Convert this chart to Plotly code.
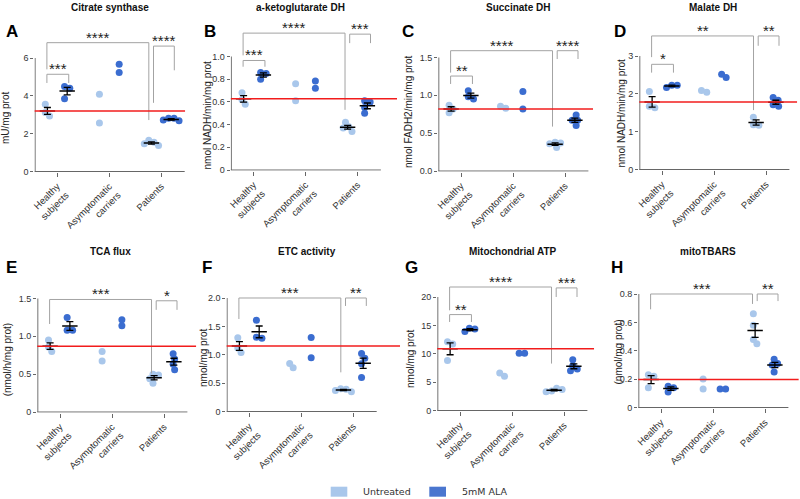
import numpy as np
import plotly.graph_objects as go

groups = ["Healthy<br>subjects", "Asymptomatic<br>carriers", "Patients"]

# values per group: [healthy, asymptomatic, patients]
cs_untreated = [[3.55, 3.12, 2.93], [4.08, 2.57], [1.65, 1.55, 1.47, 1.37]]
cs_ala = [[4.5, 4.4, 3.85], [5.67, 5.24], [2.68, 2.81, 2.72, 2.81]]
akg_untreated = [[0.68, 0.62, 0.58], [0.76, 0.61], [0.42, 0.34, 0.38, 0.37]]
akg_ala = [[0.86, 0.85, 0.80], [0.785, 0.72], [0.61, 0.60, 0.50, 0.55]]
sdh_untreated = [[0.87, 0.82, 0.77], [0.83, 0.855], [0.38, 0.31, 0.36, 0.37]]
sdh_ala = [[0.95, 1.06, 0.98], [1.05, 0.82], [0.74, 0.67, 0.67, 0.60]]
mdh_untreated = [[1.63, 2.06, 1.67], [2.04, 2.09], [1.17, 1.38, 1.18]]
mdh_ala = [[2.17, 2.23, 2.23], [2.43, 2.52], [1.67, 1.83, 1.90, 1.71]]
tca_untreated = [[0.95, 0.86, 0.80], [0.80, 0.675], [0.50, 0.38, 0.49, 0.44]]
tca_ala = [[1.08, 1.25, 1.08], [1.22, 1.14], [0.77, 0.70, 0.63, 0.56]]
etc_untreated = [[1.30, 1.04, 1.12], [0.77, 0.845], [0.35, 0.40, 0.37, 0.39]]
etc_ala = [[1.29, 1.61, 1.31], [1.305, 0.945], [0.60, 0.84, 0.94, 1.02]]
atp_untreated = [[12.1, 8.8, 11.7], [6.05, 6.6], [3.3, 3.9, 3.45, 3.7]]
atp_ala = [[13.9, 14.5, 14.35], [10.1, 10.1], [7.0, 8.95, 7.3, 7.9]]
tbars_untreated = [[0.23, 0.14, 0.22], [0.20, 0.13], [0.45, 0.66, 0.58, 0.48]]
tbars_ala = [[0.11, 0.15, 0.14], [0.13, 0.13], [0.34, 0.31, 0.25, 0.30]]

# significance brackets: (from, to, bar y, left leg end, right leg end, label)
cs_sig = [("HU", "HA", 5.14, 4.68, 4.68, "***"), ("HU", "PU", 6.81, 5.4, 2.72, "****"),
          ("PU", "PA", 6.63, 3.63, 5.35, "****")]
akg_sig = [("HU", "HA", 0.965, 0.91, 0.91, "***"), ("HU", "PU", 1.206, 1.01, 0.53, "****"),
           ("PU", "PA", 1.197, 1.118, 1.118, "***")]
sdh_sig = [("HU", "HA", 1.255, 1.15, 1.15, "**"), ("HU", "PU", 1.59, 1.30, 0.587, "****"),
           ("PU", "PA", 1.59, 1.48, 1.48, "****")]
mdh_sig = [("HU", "HA", 2.78, 2.56, 2.56, "*"), ("HU", "PU", 3.53, 2.97, 1.57, "**"),
           ("PU", "PA", 3.53, 3.27, 3.27, "**")]
tca_sig = [("HU", "PU", 1.487, 1.163, 0.51, "***"), ("PU", "PA", 1.47, 1.35, 1.35, "*")]
etc_sig = [("HU", "PU", 2.0, 1.63, 0.69, "***"), ("PU", "PA", 2.0, 1.86, 1.86, "**")]
atp_sig = [("HU", "HA", 16.9, 15.6, 15.6, "**"), ("HU", "PU", 21.76, 17.65, 8.27, "****"),
           ("PU", "PA", 21.6, 20.0, 20.0, "***")]
tbars_sig = [("HU", "PU", 0.80, 0.692, 0.73, "***"), ("PU", "PA", 0.80, 0.75, 0.75, "**")]

panels = [
    dict(letter="A", title="Citrate synthase", ylabel="mU/mg prot", u=cs_untreated, a=cs_ala, sig=cs_sig,
         ticks=[0, 2, 4, 6], ticktext=["0", "2", "4", "6"]),
    dict(letter="B", title="a-ketoglutarate DH", ylabel="nmol NADH/min/mg prot", u=akg_untreated, a=akg_ala,
         sig=akg_sig, ticks=[0, 0.2, 0.4, 0.6, 0.8, 1.0], ticktext=["0", "0.2", "0.4", "0.6", "0.8", "1.0"]),
    dict(letter="C", title="Succinate DH", ylabel="nmol FADH2/min/mg prot", u=sdh_untreated, a=sdh_ala,
         sig=sdh_sig, ticks=[0, 0.5, 1.0, 1.5], ticktext=["0.0", "0.5", "1.0", "1.5"]),
    dict(letter="D", title="Malate DH", ylabel="nmol NADH/min/mg prot", u=mdh_untreated, a=mdh_ala,
         sig=mdh_sig, ticks=[0, 1, 2, 3], ticktext=["0", "1", "2", "3"]),
    dict(letter="E", title="TCA flux", ylabel="(nmol/h/mg prot)", u=tca_untreated, a=tca_ala, sig=tca_sig,
         ticks=[0, 0.5, 1.0, 1.5], ticktext=["0", "0.5", "1.0", "1.5"]),
    dict(letter="F", title="ETC activity", ylabel="nmol/mg prot", u=etc_untreated, a=etc_ala, sig=etc_sig,
         ticks=[0, 0.5, 1.0, 1.5, 2.0], ticktext=["0", "0.5", "1.0", "1.5", "2.0"]),
    dict(letter="G", title="Mitochondrial ATP", ylabel="nmol/mg prot", u=atp_untreated, a=atp_ala, sig=atp_sig,
         ticks=[0, 5, 10, 15, 20], ticktext=["0", "5", "10", "15", "20"]),
    dict(letter="H", title="mitoTBARS", ylabel="(nmol/mg prot)", u=tbars_untreated, a=tbars_ala, sig=tbars_sig,
         ticks=[0, 0.2, 0.4, 0.6, 0.8], ticktext=["0", "0.2", "0.4", "0.6", "0.8"]),
]

# pixel layout of each panel (800x499 canvas)
pos = {
    "A": dict(hx=57.3, y0=171.5, xend=3.46, tx=110, lx=5, ly=118, kx=11.7),
    "B": dict(hx=253.5, y0=170, xend=3.76, tx=300, lx=206.5, ly=115, kx=210),
    "C": dict(hx=461, y0=171, xend=3.54, tx=518, lx=408, ly=112, kx=408),
    "D": dict(hx=662, y0=169.5, xend=3.6, tx=713, lx=620.5, ly=113, kx=620),
    "E": dict(hx=60, y0=412, xend=3.62, tx=110, lx=7.3, ly=360, kx=11.7),
    "F": dict(hx=249.3, y0=411.5, xend=3.9, tx=306.7, lx=203, ly=357, kx=206.7),
    "G": dict(hx=460, y0=410.5, xend=3.58, tx=513, lx=410, ly=358, kx=411.7),
    "H": dict(hx=661, y0=407.5, xend=3.65, tx=708, lx=617.5, ly=352, kx=616.7),
}

W, H = 800, 499
S = 52.0        # px per category
TICKPX = 113.5  # px from 0 to top tick
X0 = 0.56
LIGHT = "#a9c7eb"
DARK = "#3b6dd0"
FONT = "Liberation Sans"
OFF_U, OFF_A = -0.19, 0.19
left_end = {"HU": 1 - 0.2, "PU": 3 - 0.15}
right_end = {"HA": 1 + 0.22, "PU": 3 - 0.24, "PA": 3 + 0.25}


def swarm(vals, upp, d=5.5, step=0.25):
    vals = np.asarray(vals, float)
    offs = np.zeros(len(vals))
    placed = []
    cands = [0.0] + [s * j * step for j in range(1, 80) for s in (1, -1)]
    for i in np.argsort(-vals):
        y = vals[i] * upp
        for c in cands:
            if all((c - px) ** 2 + (y - py) ** 2 >= d * d for px, py in placed):
                break
        placed.append((c, y))
        offs[i] = c
    offs -= (offs.max() + offs.min()) / 2
    return offs / S


def paper_text(x, y, text, size, color, family=FONT, **kw):
    d = dict(x=x / W, y=1 - y / H, xref="paper", yref="paper", text=text, showarrow=False,
             xanchor="center", yanchor="middle", font=dict(family=family, size=size, color=color))
    d.update(kw)
    return d


fig = go.Figure()
shapes, annotations = [], []

for k, p in enumerate(panels):
    n = k + 1
    xa = "x" if n == 1 else f"x{n}"
    ya = "y" if n == 1 else f"y{n}"
    g = pos[p["letter"]]
    row = 0 if k < 4 else 1
    top = p["ticks"][-1]
    ymax = top * (1.24 if row == 0 else 1.14)
    ymin = -0.006 * top
    upp = TICKPX / top

    left_px = g["hx"] - (1 - X0) * S
    right_px = left_px + (g["xend"] - X0) * S
    bot_px = g["y0"] - ymin * upp
    top_px = g["y0"] - ymax * upp

    fig.layout[f"xaxis{'' if n == 1 else n}"] = dict(
        domain=[left_px / W, right_px / W], anchor=ya, range=[X0, g["xend"]],
        tickvals=[1, 2, 3], ticktext=groups, tickangle=-45, ticks="outside", ticklen=4,
        tickcolor="#666", showline=False, showgrid=False, zeroline=False,
        tickfont=dict(family=FONT, size=9.5, color="#333"), automargin=False)
    fig.layout[f"yaxis{'' if n == 1 else n}"] = dict(
        domain=[1 - bot_px / H, 1 - top_px / H], anchor=xa, range=[ymin, ymax],
        tickvals=p["ticks"], ticktext=p["ticktext"], ticks="outside", ticklen=3,
        tickcolor="#666", showline=False, showgrid=False, zeroline=False,
        tickfont=dict(family=FONT, size=9, color="#333"), automargin=False)

    # axis lines
    shapes.append(dict(type="line", xref=xa, yref=ya, x0=X0, x1=3.45, y0=0, y1=0,
                       line=dict(color="#666", width=1)))
    shapes.append(dict(type="line", xref=xa, yref=ya, x0=X0 + 0.013, x1=X0 + 0.013, y0=0, y1=top,
                       line=dict(color="#666", width=1)))

    # reference line: healthy untreated mean
    ref = float(np.mean(p["u"][0]))
    shapes.append(dict(type="line", xref=xa, yref=ya, x0=X0, x1=g["xend"], y0=ref, y1=ref,
                       line=dict(color="#f21c1c", width=1.5)))

    for gi in range(3):
        for vals, off, col in ((p["u"][gi], OFF_U, LIGHT), (p["a"][gi], OFF_A, DARK)):
            cx = gi + 1 + off
            xs = cx + swarm(vals, upp)
            fig.add_trace(go.Scatter(x=xs, y=vals, xaxis=xa, yaxis=ya, mode="markers",
                                     marker=dict(size=7, color=col, line=dict(width=0)),
                                     showlegend=False, hoverinfo="y"))
            if len(vals) >= 3:
                m = float(np.mean(vals))
                sem = float(np.std(vals, ddof=1) / np.sqrt(len(vals)))
                fig.add_trace(go.Scatter(
                    x=[cx], y=[m], xaxis=xa, yaxis=ya, mode="markers",
                    marker=dict(symbol="line-ew", size=11, color="black",
                                line=dict(width=1.5, color="black")),
                    error_y=dict(type="data", array=[sem], color="black", thickness=1.3, width=3.5),
                    showlegend=False, hoverinfo="skip"))

    # significance brackets
    for a, b, yb, l1, l2, lab in p["sig"]:
        x1, x2 = left_end[a], right_end[b]
        fig.add_trace(go.Scatter(x=[x1, x1, x2, x2], y=[l1, yb, yb, l2], xaxis=xa, yaxis=ya,
                                 mode="lines", line=dict(color="#a3a3a3", width=1),
                                 showlegend=False, hoverinfo="skip"))
        annotations.append(dict(x=(x1 + x2) / 2, y=yb, xref=xa, yref=ya, text=lab, showarrow=False,
                                xanchor="center", yanchor="bottom", yshift=-5,
                                font=dict(family=FONT, size=15, color="#222")))

    # texts
    ty = 7 if row == 0 else 252
    ky = 32 if row == 0 else 267
    annotations.append(paper_text(g["tx"], ty, f"<b>{p['title']}</b>", 10, "#111"))
    annotations.append(paper_text(g["kx"], ky, f"<b>{p['letter']}</b>", 17, "#000"))
    annotations.append(paper_text(g["lx"], g["ly"], p["ylabel"], 10, "#222", textangle=-90))

# legend
for x0, x1, col, tx, lab in ((330.7, 347.3, LIGHT, 361, "Untreated"),
                             (429.3, 446, "#4a76cf", 460, "5mM ALA")):
    shapes.append(dict(type="rect", xref="paper", yref="paper", x0=x0 / W, x1=x1 / W,
                       y0=1 - 496.7 / H, y1=1 - 486.7 / H, fillcolor=col, line=dict(width=0)))
    annotations.append(paper_text(tx, 491.7, lab, 9.5, "#333", family="DejaVu Sans", xanchor="left"))

fig.update_layout(width=W, height=H, margin=dict(l=0, r=0, t=0, b=0),
                  plot_bgcolor="white", paper_bgcolor="white", showlegend=False,
                  shapes=shapes, annotations=annotations)

fig.write_html("out.html", config={"displayModeBar": False},
               post_script="document.body.style.margin='0';")
